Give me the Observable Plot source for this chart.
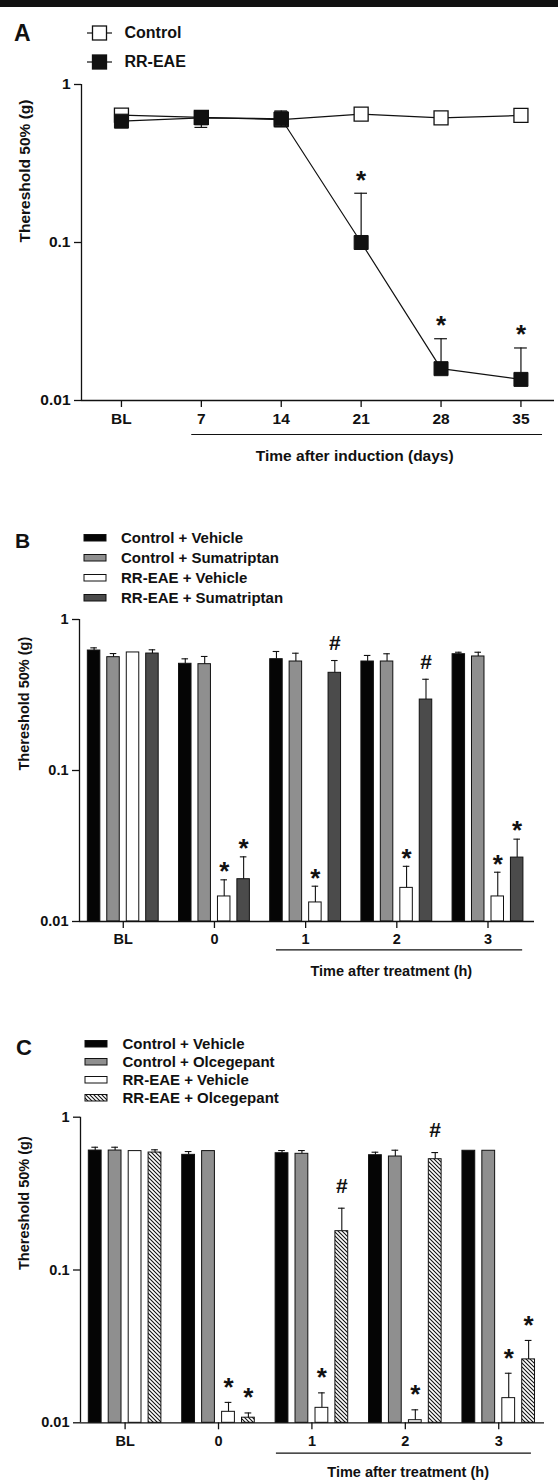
<!DOCTYPE html>
<html><head><meta charset="utf-8">
<script src="https://cdn.jsdelivr.net/npm/d3@7"></script>
<script src="https://cdn.jsdelivr.net/npm/@observablehq/plot@0.6"></script>
<style>
body{margin:0;background:#fff}
#page{position:relative;width:558px;height:1480px;overflow:hidden;background:#fff}
</style></head><body><div id="page"></div>
<script>
// ---------- shared ----------
const yTicks = [0.01, 0.1, 1];
const yTickLabels = ["0.01", "0.1", "1"];
const yTitle = "Thereshold 50% (g)";

// ---------- Panel A ----------
const daysA = ["BL", "7", "14", "21", "28", "35"];
const seriesA = ["Control", "RR-EAE"];
const controlA = [0.64, 0.62, 0.60, 0.65, 0.615, 0.637];
const eaeA = [0.586, 0.615, 0.607, 0.10, 0.0159, 0.0136];
const eaeUpperA = [null, null, 0.68, 0.205, 0.0246, 0.0215];
const eaeLowerA = [null, 0.535, 0.54, null, null, null];
const marksA = ["", "", "", "*", "*", "*"];
const xTitleA = "Time after induction (days)";
const underlineA = [0.88, 5.27];
const xTitlePosA = 2.92;

// ---------- Panel B ----------
const groupsB = ["BL", "0", "1", "2", "3"];
const seriesB = ["Control + Vehicle", "Control + Sumatriptan", "RR-EAE + Vehicle", "RR-EAE + Sumatriptan"];
const ctrlVehB   = [0.623, 0.509, 0.546, 0.527, 0.589];
const ctrlVehErrB = [0.649, 0.549, 0.614, 0.578, 0.607];
const ctrlSumaB  = [0.563, 0.506, 0.527, 0.527, 0.569];
const ctrlSumaErrB = [0.595, 0.569, 0.598, 0.593, 0.607];
const eaeVehB    = [0.605, 0.01465, 0.01337, 0.0167, 0.01465];
const eaeVehErrB = [null, 0.01888, 0.01713, 0.0232, 0.0212];
const eaeSumaB   = [0.595, 0.01906, 0.4436, 0.295, 0.0265];
const eaeSumaErrB = [0.63, 0.0268, 0.535, 0.402, 0.0351];
const eaeVehSigB  = ["", "*", "*", "*", "*"];
const eaeSumaSigB = ["", "*", "#", "#", "*"];
const xTitleB = "Time after treatment (h)";
const underlineB = [1.68, 4.38];
const xTitlePosB = 2.94;

// ---------- Panel C ----------
const groupsC = ["BL", "0", "1", "2", "3"];
const seriesC = ["Control + Vehicle", "Control + Olcegepant", "RR-EAE + Vehicle", "RR-EAE + Olcegepant"];
const ctrlVehC   = [0.605, 0.567, 0.581, 0.564, 0.603];
const ctrlVehErrC = [0.636, 0.596, 0.605, 0.59, null];
const ctrlOlceC  = [0.605, 0.60, 0.576, 0.553, 0.603];
const ctrlOlceErrC = [0.636, null, 0.605, 0.608, null];
const eaeVehC    = [0.60, 0.0118, 0.01253, 0.0104, 0.0145];
const eaeVehErrC = [null, 0.0136, 0.0157, 0.01216, 0.0211];
const eaeOlceC   = [0.587, 0.0108, 0.1795, 0.531, 0.026];
const eaeOlceErrC = [0.612, 0.0116, 0.2538, 0.587, 0.0346];
const eaeVehSigC  = ["", "*", "*", "*", "*"];
const eaeOlceSigC = ["", "*", "#", "#", "*"];
const xTitleC = "Time after treatment (h)";
const underlineC = [1.62, 4.35];
const xTitlePosC = 3.03;

// ---------- helpers ----------
const FONT = '"Liberation Sans", Arial, Helvetica, sans-serif';
const INK = "#111";
const page = document.getElementById("page");

function place(el, left, top) {
  el.style.position = "absolute";
  el.style.left = left + "px";
  el.style.top = top + "px";
  page.appendChild(el);
  return el;
}
function textAt(str, x, yc, fs) {
  const d = document.createElement("div");
  d.textContent = str;
  d.style.cssText = `font: bold ${fs}px ${FONT}; line-height:${fs}px; white-space:nowrap; color:${INK}`;
  return place(d, x, yc - 0.4885 * fs);
}

// pattern defs (shared by document)
const defs = d3.create("svg").attr("width", 0).attr("height", 0);
defs.append("defs").html(
  `<pattern id="hatch" patternUnits="userSpaceOnUse" width="4" height="4">
     <rect width="4" height="4" fill="#fff"/>
     <path d="M-1,-1 L5,5 M-1,3 L1,5 M3,-1 L5,1" stroke="#111" stroke-width="1.1"/>
   </pattern>`);
place(defs.node(), 0, 0);

// top bar
const bar = document.createElement("div");
bar.style.cssText = "width:558px;height:7px;background:#111";
place(bar, 0, 0);

function styleFor(fs) {
  return {fontFamily: FONT, fontSize: fs + "px", fontWeight: "bold", color: INK, background: "transparent", overflow: "visible"};
}

// ---------- Panel A plot ----------
const rowsA = daysA.map((t, i) => ({i, t, control: controlA[i], eae: eaeA[i], up: eaeUpperA[i], lo: eaeLowerA[i], m: marksA[i]}));
const xDomA = [-0.5, 5.42];
const capA = 0.08;
const fsA = 15.5;
const plotA = Plot.plot({
  width: 558, height: 395,
  marginTop: 14, marginBottom: 65, marginLeft: 81, marginRight: 4,
  x: {type: "linear", domain: xDomA},
  y: {type: "log", domain: [0.01, 1]},
  style: styleFor(fsA),
  marks: [
    Plot.axisY({ticks: yTicks, tickFormat: d => yTickLabels[yTicks.indexOf(d)], tickSize: 7, tickPadding: 4, label: null, strokeWidth: 1.3}),
    Plot.axisX({ticks: daysA.map((_, i) => i), tickFormat: i => daysA[i], tickSize: 7, tickPadding: 5, label: null, strokeWidth: 1.3}),
    Plot.ruleX([xDomA[0]], {y1: 0.01, y2: 1, stroke: INK, strokeWidth: 1.3}),
    Plot.ruleY([0.01], {stroke: INK, strokeWidth: 1.3}),
    Plot.text([yTitle], {frameAnchor: "left", dx: -56, rotate: -90, text: d => d, fontSize: fsA}),
    Plot.ruleY([0.01], {x1: underlineA[0], x2: underlineA[1], dy: 34, stroke: INK, strokeWidth: 1.2}),
    Plot.text([xTitleA], {x: xTitlePosA, y: 0.01, dy: 56, text: d => d, fontSize: fsA}),
    // control
    Plot.line(rowsA, {x: "i", y: "control", stroke: INK, strokeWidth: 1.2}),
    Plot.dot(rowsA, {x: "i", y: "control", symbol: "square", r: 7.9, fill: "#fff", stroke: INK, strokeWidth: 1.3}),
    // RR-EAE
    Plot.line(rowsA, {x: "i", y: "eae", stroke: INK, strokeWidth: 1.2}),
    Plot.ruleX(rowsA.filter(d => d.up), {x: "i", y1: "eae", y2: "up", stroke: INK, strokeWidth: 1.2}),
    Plot.ruleY(rowsA.filter(d => d.up), {y: "up", x1: d => d.i - capA, x2: d => d.i + capA, stroke: INK, strokeWidth: 1.2}),
    Plot.ruleX(rowsA.filter(d => d.lo), {x: "i", y1: "eae", y2: "lo", stroke: INK, strokeWidth: 1.2}),
    Plot.ruleY(rowsA.filter(d => d.lo), {y: "lo", x1: d => d.i - capA, x2: d => d.i + capA, stroke: INK, strokeWidth: 1.2}),
    Plot.dot(rowsA, {x: "i", y: "eae", symbol: "square", r: 7.9, fill: INK, stroke: INK, strokeWidth: 1}),
    Plot.text(rowsA.filter(d => d.m === "*"), {x: "i", y: "up", text: "m", fontSize: 26, dy: -13})
  ]
});
place(plotA, 0, 70);

// ---------- bar panels ----------
const barOffsets = [-0.32, -0.107, 0.107, 0.32];
const barW = 0.137;
const capW = 0.036;
const fsBar = 14.5;

function barPanel(cfg) {
  const rows = [];
  cfg.values.forEach((vals, si) => vals.forEach((v, gi) => {
    rows.push({si, gi, c: gi + barOffsets[si], v, e: cfg.errors[si][gi], m: cfg.sig[si] ? cfg.sig[si][gi] : ""});
  }));
  const xDom = cfg.xDomain;
  const marks = [
    Plot.axisY({ticks: yTicks, tickFormat: d => yTickLabels[yTicks.indexOf(d)], tickSize: 7, tickPadding: 4, label: null, strokeWidth: 1.3}),
    Plot.axisX({ticks: cfg.groups.map((_, i) => i), tickFormat: i => cfg.groups[i], tickSize: 7, tickPadding: 5.5, label: null, strokeWidth: 1.3}),
    Plot.text([yTitle], {frameAnchor: "left", dx: -cfg.yTitleOffset, rotate: -90, text: d => d, fontSize: fsBar}),
    Plot.ruleY([0.01], {x1: cfg.underline[0], x2: cfg.underline[1], dy: cfg.underlineDy, stroke: INK, strokeWidth: 1.2}),
    Plot.text([cfg.xTitle], {x: cfg.xTitlePos, y: 0.01, dy: cfg.xTitleDy, text: d => d, fontSize: fsBar})
  ];
  cfg.fills.forEach((f, si) => {
    const rs = rows.filter(d => d.si === si);
    marks.push(Plot.rect(rs, {x1: d => d.c - barW / 2, x2: d => d.c + barW / 2, y1: 0.01, y2: "v", fill: f, stroke: INK, strokeWidth: 1}));
  });
  const er = rows.filter(d => d.e != null);
  marks.push(Plot.ruleX(er, {x: "c", y1: "v", y2: "e", stroke: INK, strokeWidth: 1.1}));
  marks.push(Plot.ruleY(er, {y: "e", x1: d => d.c - capW, x2: d => d.c + capW, stroke: INK, strokeWidth: 1.1}));
  marks.push(Plot.text(rows.filter(d => d.m === "*"), {x: "c", y: d => d.e ?? d.v, text: "m", fontSize: 26, dy: cfg.starDy}));
  marks.push(Plot.text(rows.filter(d => d.m === "#"), {x: "c", y: d => d.e ?? d.v, text: "m", fontSize: 21, dy: cfg.hashDy}));
  marks.push(Plot.ruleX([xDom[0]], {y1: 0.01, y2: 1, stroke: INK, strokeWidth: 1.3}));
  marks.push(Plot.ruleY([0.01], {stroke: INK, strokeWidth: 1.3}));
  return Plot.plot({
    width: 558, height: cfg.height,
    marginTop: cfg.mt, marginBottom: cfg.mb, marginLeft: cfg.ml, marginRight: cfg.mr,
    x: {type: "linear", domain: xDom},
    y: {type: "log", domain: [0.01, 1]},
    style: styleFor(fsBar),
    marks
  });
}

const plotB = barPanel({
  groups: groupsB,
  values: [ctrlVehB, ctrlSumaB, eaeVehB, eaeSumaB],
  errors: [ctrlVehErrB, ctrlSumaErrB, eaeVehErrB, eaeSumaErrB],
  sig: [null, null, eaeVehSigB, eaeSumaSigB],
  fills: ["#050505", "#8f8f8f", "#ffffff", "#4b4b4b"],
  xDomain: [-0.48, 4.51],
  height: 375, mt: 14, mb: 59, ml: 79, mr: 24,
  yTitleOffset: 55,
  underline: underlineB, underlineDy: 28.3,
  xTitle: xTitleB, xTitlePos: xTitlePosB, xTitleDy: 49.7,
  starDy: -8, hashDy: -17
});
place(plotB, 0, 605);

const plotC = barPanel({
  groups: groupsC,
  values: [ctrlVehC, ctrlOlceC, eaeVehC, eaeOlceC],
  errors: [ctrlVehErrC, ctrlOlceErrC, eaeVehErrC, eaeOlceErrC],
  sig: [null, null, eaeVehSigC, eaeOlceSigC],
  fills: ["#050505", "#8f8f8f", "#ffffff", "url(#hatch)"],
  xDomain: [-0.4775, 4.49],
  height: 375, mt: 11.7, mb: 57.7, ml: 80, mr: 14,
  yTitleOffset: 56,
  underline: underlineC, underlineDy: 30.4,
  xTitle: xTitleC, xTitlePos: xTitlePosC, xTitleDy: 49.4,
  starDy: -15, hashDy: -22
});
place(plotC, 0, 1105);

// ---------- panel letters & legends (HTML) ----------
textAt("A", 14, 33.5, 23);
textAt("B", 15, 540.5, 21);
textAt("C", 16, 1048, 22);

// Legend A
seriesA.forEach((s, i) => {
  const yc = 33 + 29 * i;
  const sw = d3.create("svg").attr("width", 28).attr("height", 18);
  sw.append("line").attr("x1", 1).attr("x2", 26).attr("y1", 9).attr("y2", 9).attr("stroke", INK).attr("stroke-width", 1.2);
  sw.append("rect").attr("x", 6.5).attr("y", 2).attr("width", 14).attr("height", 14)
    .attr("fill", i === 0 ? "#fff" : INK).attr("stroke", INK).attr("stroke-width", 1.3);
  place(sw.node(), 86, yc - 9);
  textAt(s, 124.5, yc, 16);
});

function barLegend(series, fills, x0, y0, dyRow, textX) {
  series.forEach((s, i) => {
    const yc = y0 + dyRow * i;
    const sw = d3.create("svg").attr("width", 26).attr("height", 10);
    sw.append("rect").attr("x", 1).attr("y", 1.5).attr("width", 22).attr("height", 6.5)
      .attr("fill", fills[i]).attr("stroke", INK).attr("stroke-width", 1);
    place(sw.node(), x0, yc - 5);
    textAt(s, textX, yc, 15);
  });
}
barLegend(seriesB, ["#050505", "#8f8f8f", "#ffffff", "#4b4b4b"], 83, 537.5, 20, 121);
barLegend(seriesC, ["#050505", "#8f8f8f", "#ffffff", "url(#hatch)"], 83.5, 1043.5, 18.1, 122.5);
</script></body></html>
